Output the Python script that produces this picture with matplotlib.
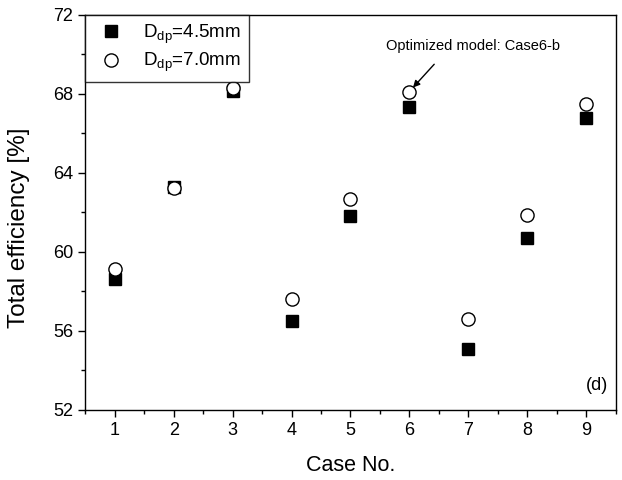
import matplotlib
matplotlib.use("Agg")
import matplotlib.pyplot as plt
from matplotlib.ticker import MultipleLocator

plt.rcParams["font.family"] = ["Liberation Sans", "DejaVu Sans"]
plt.rcParams["mathtext.fontset"] = "custom"
plt.rcParams["mathtext.rm"] = "Liberation Sans"
plt.rcParams["mathtext.it"] = "Liberation Sans"

cases = [1, 2, 3, 4, 5, 6, 7, 8, 9]
eff_45 = [58.63, 63.3, 68.15, 56.52, 61.81, 67.35, 55.08, 60.68, 66.8]
eff_70 = [59.14, 63.25, 68.28, 57.61, 62.69, 68.12, 56.6, 61.88, 67.51]

fig = plt.figure(figsize=(6.22, 4.8), dpi=100)
ax = fig.add_axes([0.137, 0.146, 0.853, 0.823])

ax.plot(cases, eff_45, "s", color="black", ms=9, linestyle="none",
        label=r"D$_{\rm dp}$=4.5mm")
ax.plot(cases, eff_70, "o", mfc="white", mec="black", mew=1, ms=9.5,
        linestyle="none", label=r"D$_{\rm dp}$=7.0mm")

ax.set_xlim(0.5, 9.5)
ax.set_ylim(52, 72)
ax.xaxis.set_major_locator(MultipleLocator(1))
ax.xaxis.set_minor_locator(MultipleLocator(0.5))
ax.yaxis.set_major_locator(MultipleLocator(4))
ax.yaxis.set_minor_locator(MultipleLocator(2))
ax.tick_params(which="both", direction="out", top=False, right=False,
               labelsize=13, width=1)
ax.tick_params(which="major", length=5)
ax.tick_params(which="minor", length=3)
for s in ax.spines.values():
    s.set_linewidth(1)

ax.set_xlabel("Case No.", fontsize=15.5, labelpad=12)
ax.set_ylabel("Total efficiency [%]", fontsize=17.5, labelpad=8)
ax.yaxis.set_label_coords(-0.105, 0.46)

ax.text(5.6, 70.05, "Optimized model: Case6-b", fontsize=10.5,
        ha="left", va="bottom")
ax.annotate("", xy=(6.06, 68.32), xytext=(6.42, 69.5),
            arrowprops=dict(arrowstyle="-|>", color="black", lw=1,
                            mutation_scale=10, shrinkA=0, shrinkB=0))

ax.text(0.985, 0.04, "(d)", transform=ax.transAxes, fontsize=13,
        ha="right", va="bottom")

leg = ax.legend(loc="upper left", fontsize=13.5, frameon=True, fancybox=False,
                edgecolor="black", borderaxespad=0, handletextpad=0.7,
                borderpad=0.4, labelspacing=0.3)
leg.get_frame().set_linewidth(1)

fig.savefig("out.png", dpi=100)
